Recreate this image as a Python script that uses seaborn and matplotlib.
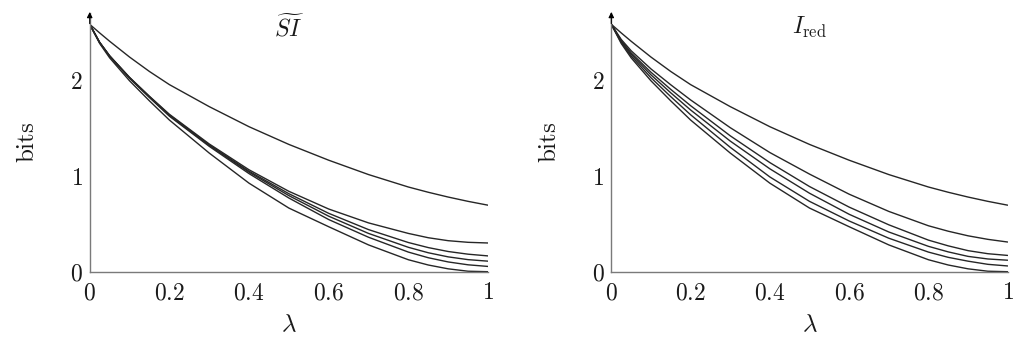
import numpy as np
import pandas as pd
import matplotlib
matplotlib.use("Agg")
import matplotlib.pyplot as plt
import seaborn as sns

# ---- data ----
lam = [0.0, 0.025, 0.05, 0.1, 0.15, 0.2, 0.3, 0.4, 0.5, 0.6, 0.7, 0.8, 0.85, 0.9, 0.95, 1.0]

# left panel: SI~
si_1 = [2.585, 2.495, 2.408, 2.243, 2.092, 1.955, 1.725, 1.515, 1.33, 1.165, 1.015, 0.885, 0.83, 0.78, 0.735, 0.695]
si_2 = [2.585, 2.397, 2.257, 2.031, 1.833, 1.645, 1.335, 1.065, 0.84, 0.655, 0.51, 0.40, 0.355, 0.324, 0.307, 0.30]
si_3 = [2.585, 2.396, 2.255, 2.028, 1.829, 1.638, 1.325, 1.05, 0.815, 0.61, 0.44, 0.305, 0.252, 0.211, 0.183, 0.165]
si_4 = [2.585, 2.395, 2.253, 2.025, 1.825, 1.632, 1.32, 1.04, 0.795, 0.58, 0.40, 0.255, 0.198, 0.155, 0.126, 0.11]
si_5 = [2.585, 2.394, 2.251, 2.021, 1.82, 1.625, 1.31, 1.025, 0.77, 0.545, 0.36, 0.205, 0.146, 0.102, 0.072, 0.055]
si_6 = [2.585, 2.385, 2.235, 1.995, 1.785, 1.585, 1.24, 0.925, 0.665, 0.47, 0.28, 0.125, 0.07, 0.03, 0.005, 0.0]

# right panel: I_red
red_1 = [2.585, 2.495, 2.408, 2.243, 2.092, 1.955, 1.725, 1.515, 1.33, 1.165, 1.015, 0.885, 0.83, 0.78, 0.735, 0.695]
red_2 = [2.585, 2.427, 2.309, 2.119, 1.953, 1.795, 1.505, 1.245, 1.02, 0.81, 0.63, 0.48, 0.423, 0.375, 0.338, 0.31]
red_3 = [2.585, 2.415, 2.287, 2.084, 1.905, 1.735, 1.42, 1.14, 0.89, 0.675, 0.49, 0.33, 0.27, 0.22, 0.188, 0.17]
red_4 = [2.585, 2.406, 2.272, 2.057, 1.869, 1.69, 1.365, 1.075, 0.82, 0.60, 0.415, 0.265, 0.207, 0.16, 0.133, 0.12]
red_5 = [2.585, 2.396, 2.254, 2.027, 1.829, 1.64, 1.30, 0.99, 0.735, 0.53, 0.35, 0.205, 0.15, 0.11, 0.077, 0.06]
red_6 = [2.585, 2.385, 2.235, 1.995, 1.785, 1.585, 1.24, 0.925, 0.665, 0.47, 0.28, 0.125, 0.07, 0.03, 0.005, 0.0]

xticks = [0, 0.2, 0.4, 0.6, 0.8, 1]
xtick_labels = ["0", "0.2", "0.4", "0.6", "0.8", "1"]
yticks = [0, 1, 2]
ytick_labels = ["0", "1", "2"]
titles = [r"$\widetilde{SI}$", r"$I_{\mathrm{red}}$"]


def long_frame(series):
    rows = []
    for k, s in enumerate(series):
        for x, y in zip(lam, s):
            rows.append({"lam": x, "bits": y, "curve": k})
    return pd.DataFrame(rows)


panels = [
    long_frame([si_1, si_2, si_3, si_4, si_5, si_6]),
    long_frame([red_1, red_2, red_3, red_4, red_5, red_6]),
]

sns.set_theme(style="white")
plt.rcParams["mathtext.fontset"] = "cm"
plt.rcParams["font.family"] = ["DejaVu Serif"]

fig = plt.figure(figsize=(10.24, 3.38), dpi=100)
ax_rects = [
    [89.7 / 1024, 66.3 / 338, 398.3 / 1024, 258.4 / 338],
    [611.3 / 1024, 66.3 / 338, 396.4 / 1024, 258.4 / 338],
]
axis_grey = "#7a7a7a"

for rect, df, title in zip(ax_rects, panels, titles):
    ax = fig.add_axes(rect)
    sns.lineplot(data=df, x="lam", y="bits", units="curve", estimator=None,
                 color="#262626", linewidth=1.0, ax=ax, legend=False)
    ax.set_xlim(0, 1)
    ax.set_ylim(0, 2.7)
    for side in ["top", "right"]:
        ax.spines[side].set_visible(False)
    for side in ["left", "bottom"]:
        ax.spines[side].set_color(axis_grey)
        ax.spines[side].set_linewidth(1.0)
    ax.set_xticks(xticks)
    ax.set_xticklabels(["$" + t + "$" for t in xtick_labels])
    ax.set_yticks(yticks)
    ax.set_yticklabels(["$" + t + "$" for t in ytick_labels])
    ax.tick_params(axis="both", direction="inout", length=6, width=0.8,
                   color="#c8c8c8", labelsize=17, labelcolor="#1a1a1a")
    ax.tick_params(axis="x", pad=4)
    ax.tick_params(axis="y", pad=2)
    ax.set_xlabel(r"$\lambda$", fontsize=18, labelpad=6, color="#1a1a1a")
    ax.set_ylabel(r"$\mathrm{bits}$", fontsize=18, labelpad=22, color="#1a1a1a")
    ax.text(0.5, 0.945, title, transform=ax.transAxes, ha="center",
            va="center", fontsize=17, color="#1a1a1a")
    # arrow head at the top of the y axis
    ax.annotate("", xy=(0, 1.005), xytext=(0, 0.96), xycoords="axes fraction",
                textcoords="axes fraction",
                arrowprops=dict(arrowstyle="-|>", color="black", lw=0.8,
                                mutation_scale=8, shrinkA=0, shrinkB=0))
    ax.grid(False)

fig.savefig("out.png", dpi=100)
